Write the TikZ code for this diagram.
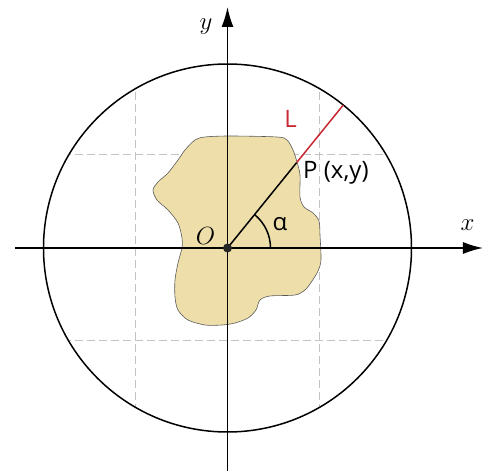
\documentclass[tikz,border=0pt]{standalone}
\usepackage{fontspec}
\newfontfamily\sansfnt{Open Sans}
\usetikzlibrary{arrows.meta}
\definecolor{blobfill}{RGB}{238,223,170}
\definecolor{blobedge}{RGB}{90,90,90}
\definecolor{redline}{RGB}{200,40,50}
\definecolor{gridgray}{RGB}{195,195,195}
\tikzset{
  axis/.style={line width=1.6pt,-{Latex[length=20pt,width=12pt]}},
  gridline/.style={gridgray,line width=1pt,dash pattern=on 8pt off 4pt},
  mathlbl/.style={font=\fontsize{26}{30}\selectfont,inner sep=0pt},
  sanslbl/.style={font=\sansfnt\fontsize{24}{28}\selectfont,inner sep=0pt},
}
\begin{document}
\begin{tikzpicture}[x=1pt,y=1pt]
\useasboundingbox (-227.5,-223) rectangle (255.5,248);
\coordinate (O) at (0,0);
\coordinate (P) at (51:110);
\coordinate (E) at (51:184);
% grid clipped to the circle
\begin{scope}
  \clip (O) circle (184);
  \draw[gridline] (-92,-200) -- (-92,200);
  \draw[gridline] (92,-200) -- (92,200);
  \draw[gridline] (-200,93) -- (200,93);
  \draw[gridline] (-200,-93) -- (200,-93);
\end{scope}
% region
\draw[fill=blobfill,draw=blobedge,line width=0.6pt]
  plot[smooth cycle,tension=0.5] coordinates {
  (-22.5,111) (2.5,112) (49.5,111) (59.5,108) (65.5,98) (69.5,86) (72.5,73)
  (72.5,51) (76.5,41) (85.5,35) (91.5,27) (92.5,13) (93.5,-12) (90.5,-23)
  (84.5,-33) (77.5,-42) (67.5,-47) (42.5,-48) (32.5,-52) (28.5,-62)
  (20.5,-70) (7.5,-75) (-5.5,-77) (-22.5,-77) (-39.5,-72) (-49.5,-62)
  (-52.5,-49) (-52.5,-32) (-49.5,-15) (-45.5,0) (-45.5,10) (-49.5,25)
  (-59.5,38) (-70.5,48) (-74.5,58) (-69.5,66) (-59.5,75) (-49.5,88)
  (-42.5,98) (-32.5,108)};
% circle
\draw[line width=1.5pt] (O) circle (184);
% axes
\coordinate (xs) at (-212.5,0);
\coordinate (xe) at (255.5,0);
\coordinate (ys) at (0,-223);
\coordinate (ye) at (0,241);
\draw[axis] (xs) -- (xe);
\draw[axis] (ys) -- (ye);
% ray
\draw[line width=1.5pt] (O) -- (P);
\draw[redline,line width=1.5pt] (P) -- (E);
% angle
\draw[line width=1.5pt] (43,0) arc[start angle=0,end angle=51,radius=43];
% origin dot
\fill[black!85] (O) circle (4.5);
% labels
\node[mathlbl] (ylbl) at (-21.5,221) {$y$};
\node[mathlbl] (xlbl) at (240,23) {$x$};
\node[mathlbl] (Olbl) at (-22,12) {$O$};
\node[sanslbl] (alpha) at (52.5,24) {α};
\node[sanslbl,anchor=base west] (Plbl) at (75.5,69) {P (x,y)};
\node[sanslbl,text=redline] (Llbl) at (63,129) {L};
\end{tikzpicture}
\end{document}
